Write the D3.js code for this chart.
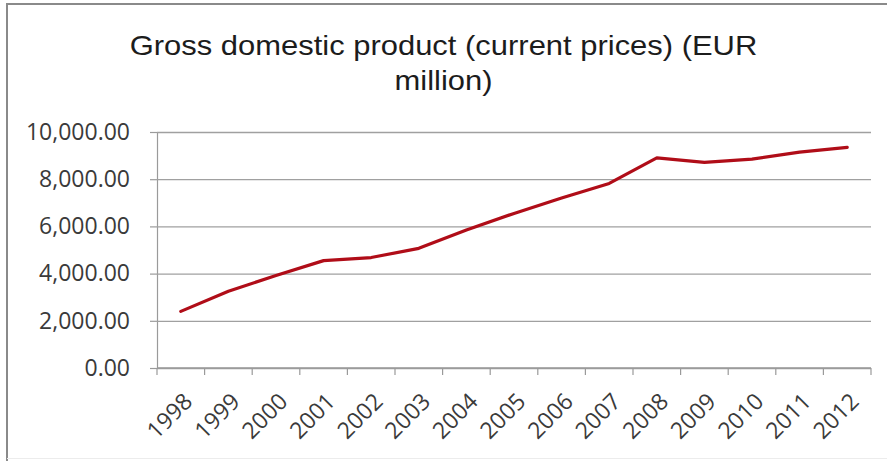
<!DOCTYPE html>
<html>
<head>
<meta charset="utf-8">
<script src="https://cdn.jsdelivr.net/npm/d3@7/dist/d3.min.js"></script>
<style>
  html, body { margin: 0; padding: 0; background: #fff; }
  svg { display: block; }
  text { font-family: "Open Sans", "Liberation Sans", sans-serif; }
</style>
</head>
<body>
<svg id="chart" width="887" height="461"></svg>
<script>
// Gross domestic product at current prices, EUR million
const years = ["1998", "1999", "2000", "2001", "2002", "2003", "2004", "2005",
               "2006", "2007", "2008", "2009", "2010", "2011", "2012"];
const gdp = [2400, 3250, 3920, 4550, 4680, 5070, 5850, 6550,
             7200, 7820, 8900, 8710, 8850, 9150, 9350];
const yTicks = [0, 2000, 4000, 6000, 8000, 10000];
const titleLines = ["Gross domestic product (current prices) (EUR", "million)"];

const svg = d3.select("#chart");
const W = 887, H = 461;
const plot = { left: 157, right: 871, top: 132, bottom: 368 };

// Outer frame
svg.append("rect").attr("x", 0).attr("y", 0).attr("width", W).attr("height", H).attr("fill", "#fff");
svg.append("line").attr("x1", 6).attr("x2", W).attr("y1", 4).attr("y2", 4)
  .attr("stroke", "#8a8a8a").attr("stroke-width", 2);
svg.append("line").attr("x1", 7).attr("x2", 7).attr("y1", 4).attr("y2", H)
  .attr("stroke", "#8a8a8a").attr("stroke-width", 2);
svg.append("line").attr("x1", 7).attr("x2", W).attr("y1", 458.5).attr("y2", 458.5)
  .attr("stroke", "#ececec").attr("stroke-width", 1);

const x = d3.scaleBand().domain(years).range([plot.left, plot.right]).paddingInner(0).paddingOuter(0);
const y = d3.scaleLinear().domain([0, 10000]).range([plot.bottom, plot.top]);

// Title: condensed sans, centred over the chart
const titleG = svg.append("g");
const titleText = titleG.selectAll("text").data(titleLines).join("text")
  .attr("x", 0).attr("y", (d, i) => 55 + i * 35)
  .attr("text-anchor", "middle")
  .attr("font-size", 28)
  .style("font-family", "'Liberation Sans', Arial, sans-serif")
  .attr("fill", "#1c1c1c")
  .text(d => d);
const firstWidth = titleText.node().getComputedTextLength();
const squeeze = 628 / firstWidth;
titleG.attr("transform", `translate(443.5,0) scale(${squeeze},1)`);

// Horizontal gridlines + y axis labels
const fmt = d3.format(",.2f");
const yAxis = d3.axisLeft(y).tickValues(yTicks).tickSize(7).tickPadding(20).tickFormat(fmt);
const gy = svg.append("g").attr("transform", `translate(${plot.left},0)`).call(yAxis);
gy.select(".domain").attr("stroke", "#9a9a9a").attr("stroke-width", 1.2);
gy.selectAll(".tick line").attr("stroke", "#9a9a9a").attr("stroke-width", 1.2);
gy.selectAll(".tick text").attr("font-size", 23).attr("fill", "#3a3a3a")
  .style("font-family", "'Open Sans', sans-serif");
gy.selectAll(".tick").append("line")
  .attr("x1", 0).attr("x2", plot.right - plot.left)
  .attr("stroke", "#a0a0a0").attr("stroke-width", 1.3);

// X axis with ticks at category boundaries
const gx = svg.append("g").attr("transform", `translate(0,${plot.bottom})`);
gx.append("line").attr("x1", plot.left).attr("x2", plot.right).attr("stroke", "#9a9a9a").attr("stroke-width", 1.3);
const bounds = years.map(d => x(d)).concat([x(years[years.length - 1]) + x.bandwidth()]);
gx.selectAll("line.tk").data(bounds).join("line").attr("class", "tk")
  .attr("x1", d => d).attr("x2", d => d).attr("y1", 0).attr("y2", 7)
  .attr("stroke", "#9a9a9a").attr("stroke-width", 1.2);
gx.selectAll("text").data(years).join("text")
  .attr("transform", d => `translate(${x(d) + x.bandwidth() / 2 + 13},${35}) rotate(-45)`)
  .attr("text-anchor", "end")
  .attr("font-size", 23)
  .attr("fill", "#3a3a3a")
  .text(d => d);

// GDP line
const line = d3.line()
  .x((d, i) => x(years[i]) + x.bandwidth() / 2)
  .y(d => y(d));
svg.append("path").datum(gdp)
  .attr("d", line)
  .attr("fill", "none")
  .attr("stroke", "#b00d18")
  .attr("stroke-width", 3.2)
  .attr("stroke-linejoin", "round")
  .attr("stroke-linecap", "round");
</script>
</body>
</html>
